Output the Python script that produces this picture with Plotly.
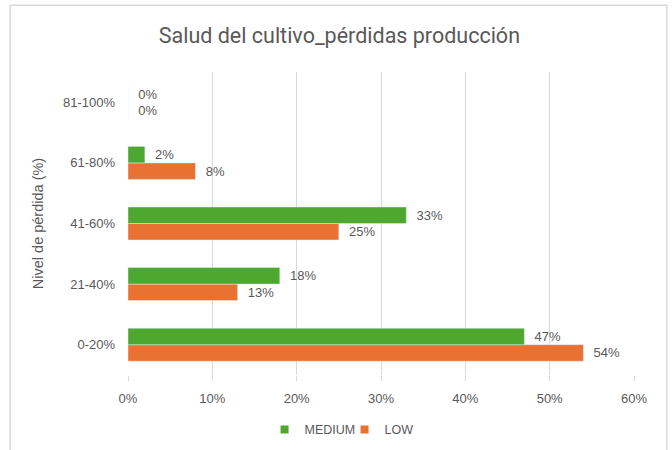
import plotly.graph_objects as go

# Loss level categories (bottom to top)
categories = ['0-20%', '21-40%', '41-60%', '61-80%', '81-100%']
medium_values = [47, 18, 33, 2, 0]
low_values = [54, 13, 25, 8, 0]

GREEN = '#4EA72E'
ORANGE = '#E97132'
GREY = '#595959'
FONT = 'Liberation Sans, Arial, sans-serif'

fig = go.Figure()

# LOW added first so it sits below MEDIUM inside each group
fig.add_trace(go.Bar(
    y=categories, x=low_values, orientation='h', name='LOW',
    marker_color=ORANGE, showlegend=False,
    texttemplate='  %{x:.0f}%', textposition='outside',
    textfont=dict(color=GREY, size=13, family=FONT),
    cliponaxis=False,
))
fig.add_trace(go.Bar(
    y=categories, x=medium_values, orientation='h', name='MEDIUM',
    marker_color=GREEN, showlegend=False,
    texttemplate='  %{x:.0f}%', textposition='outside',
    textfont=dict(color=GREY, size=13, family=FONT),
    cliponaxis=False,
))

# small square legend keys, like the Excel legend
for name, color in [('MEDIUM', GREEN), ('LOW', ORANGE)]:
    fig.add_trace(go.Scatter(
        x=[None], y=[None], mode='markers', name=name,
        marker=dict(symbol='square', size=8, color=color),
    ))

fig.update_layout(
    width=672, height=450,
    barmode='group', bargap=0.455, bargroupgap=0,
    paper_bgcolor='white', plot_bgcolor='white',
    margin=dict(l=128, r=38, t=72, b=75, autoexpand=False),
    font=dict(family=FONT, color=GREY, size=13),
    title=dict(text='Salud del cultivo_pérdidas producción', x=0.505, xanchor='center',
               y=0.922, yanchor='middle',
               font=dict(size=21.5, color=GREY, family='Roboto')),
    legend=dict(orientation='h', x=0.428, xanchor='center', yref='container',
                y=0.045, yanchor='middle',
                font=dict(size=12.5, color=GREY), itemwidth=30, entrywidth=35),
    shapes=[dict(type='rect', xref='paper', yref='paper',
                 x0=-0.233, x1=1.065, y0=-0.4, y1=1.22,
                 line=dict(color='#D9D9D9', width=1.5))],
)

fig.update_xaxes(range=[0, 60], dtick=10, tick0=0, ticksuffix='%',
                 showgrid=True, gridcolor='#D9D9D9', gridwidth=1,
                 zeroline=False, showline=False, ticks='outside', ticklen=5,
                 tickcolor='#D9D9D9', ticklabelstandoff=6, automargin=False,
                 tickfont=dict(size=13, color=GREY))
fig.update_yaxes(title=dict(text='Nivel de pérdida (%)', font=dict(size=14.5, color=GREY), standoff=15),
                 showgrid=False, zeroline=False, showline=False, ticks='',
                 ticklabelstandoff=12, automargin=False, tickfont=dict(size=13, color=GREY))

# drop the default page margin so the figure sits at the window corner
fig.write_html("out.html", config={'displayModeBar': False},
               post_script="document.body.style.margin='0';")
